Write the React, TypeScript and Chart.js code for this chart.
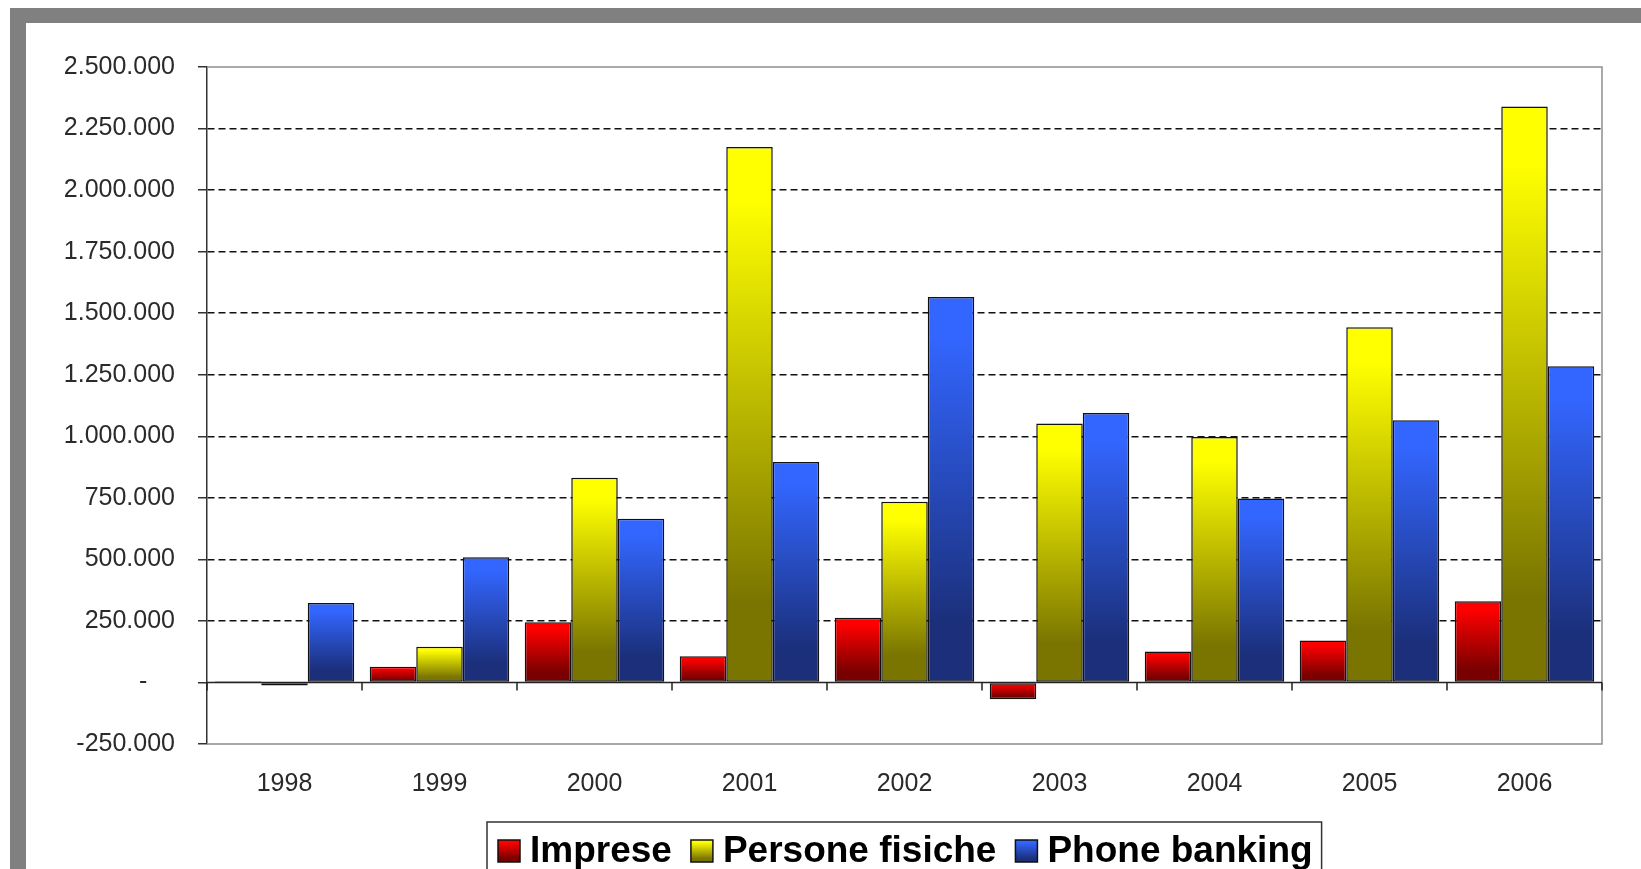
import { useEffect, useRef } from 'react';
import { Chart, registerables } from 'chart.js';

Chart.register(...registerables);

// Categories and series values
const years = ['1998', '1999', '2000', '2001', '2002', '2003', '2004', '2005', '2006'];
const imprese = [5000, 64000, 245000, 106000, 263000, -68000, 126000, 170000, 330000];
const personeFisiche = [-12000, 145000, 832000, 2175000, 734000, 1052000, 997000, 1443000, 2340000];
const phoneBanking = [323000, 509000, 665000, 896000, 1566000, 1095000, 747000, 1065000, 1284000];
const seriesNames = ['Imprese', 'Persone fisiche', 'Phone banking'];

// Value axis range
const yMin = -250000;
const yMax = 2500000;
const yStep = 250000;

// Bar shading: bright at the top, dark at the base
const topColors = ['#FF0000', '#FFFF00', '#3366FF'];
const bottomColors = ['#780000', '#7A7500', '#1B2F7A'];

const FONT = '"Liberation Sans", Arial, sans-serif';

function formatValue(v: number): string {
  if (v === 0) return '-    ';
  const s = Math.abs(v).toString().replace(/\B(?=(\d{3})+(?!\d))/g, '.');
  return (v < 0 ? '-' : '') + s;
}

function fillStops(g: CanvasGradient, i: number) {
  g.addColorStop(0, topColors[i]);
  g.addColorStop(0.1, topColors[i]);
  g.addColorStop(0.85, bottomColors[i]);
  g.addColorStop(1, bottomColors[i]);
  return g;
}

function barFill(i: number) {
  return (c: any) => {
    const chart = c.chart;
    if (c.type !== 'data' || !chart.chartArea) return topColors[i];
    const ys = chart.scales.y;
    const v = c.raw as number;
    const p0 = ys.getPixelForValue(0);
    const p1 = ys.getPixelForValue(v);
    const t = Math.min(p0, p1);
    const b = Math.max(p0, p1);
    if (b - t < 1) return bottomColors[i];
    return fillStops(chart.ctx.createLinearGradient(0, t, 0, b), i);
  };
}

const decorPlugin = {
  id: 'decor',
  beforeDraw(chart: any) {
    const { ctx, width, height } = chart;
    ctx.save();
    ctx.fillStyle = '#ffffff';
    ctx.fillRect(0, 0, width, height);
    ctx.fillStyle = '#808080';
    ctx.fillRect(10, 8, width - 10, 15);
    ctx.fillRect(10, 8, 16, height - 8);
    ctx.restore();
  },
  beforeDatasetsDraw(chart: any) {
    const { ctx, chartArea: a } = chart;
    ctx.save();
    ctx.strokeStyle = '#8f8f8f';
    ctx.lineWidth = 1.5;
    ctx.beginPath();
    ctx.moveTo(a.left, a.top);
    ctx.lineTo(a.right, a.top);
    ctx.lineTo(a.right, a.bottom);
    ctx.lineTo(a.left, a.bottom);
    ctx.stroke();
    ctx.restore();
  },
  afterDatasetsDraw(chart: any) {
    const { ctx, chartArea: a } = chart;
    const xs = chart.scales.x;
    const y0 = chart.scales.y.getPixelForValue(0);
    const step = xs.getPixelForValue(1) - xs.getPixelForValue(0);
    ctx.save();
    ctx.strokeStyle = '#222';
    ctx.lineWidth = 1.5;
    ctx.beginPath();
    ctx.moveTo(a.left, y0);
    ctx.lineTo(a.right, y0);
    for (let i = 0; i <= years.length; i++) {
      const x = xs.getPixelForValue(0) - step / 2 + i * step;
      ctx.moveTo(x, y0);
      ctx.lineTo(x, y0 + 8);
    }
    ctx.stroke();
    ctx.restore();
  },
  afterDraw(chart: any) {
    const { ctx, chartArea: a } = chart;
    ctx.save();
    ctx.font = `bold 37px ${FONT}`;
    const box = 22;
    const gapText = 10;
    const gapItem = 19;
    const padL = 11;
    const padR = 9;
    const widths = seriesNames.map((n) => ctx.measureText(n).width);
    const content = widths.reduce((s, w) => s + box + gapText + w, 0) + gapItem * (seriesNames.length - 1);
    const total = padL + content + padR;
    const left = Math.round((a.left + a.right) / 2 - total / 2);
    const top = 822;
    const baseline = 862;
    ctx.strokeStyle = '#333';
    ctx.lineWidth = 1.5;
    ctx.strokeRect(left, top, total, chart.height - top + 20);
    let x = left + padL;
    seriesNames.forEach((name, i) => {
      const by = baseline - box;
      ctx.fillStyle = fillStops(ctx.createLinearGradient(0, by, 0, by + box), i);
      ctx.fillRect(x, by, box, box);
      ctx.strokeStyle = '#111';
      ctx.lineWidth = 1.5;
      ctx.strokeRect(x, by, box, box);
      ctx.fillStyle = '#000';
      ctx.textBaseline = 'alphabetic';
      ctx.textAlign = 'left';
      ctx.fillText(name, x + box + gapText, baseline);
      x += box + gapText + widths[i] + gapItem;
    });
    ctx.restore();
  },
};

export default function App() {
  const ref = useRef<HTMLCanvasElement>(null);

  useEffect(() => {
    const values = [imprese, personeFisiche, phoneBanking];
    const chart = new Chart(ref.current as HTMLCanvasElement, {
      type: 'bar',
      data: {
        labels: years,
        datasets: seriesNames.map((name, i) => ({
          label: name,
          data: values[i],
          backgroundColor: barFill(i),
          borderColor: '#111',
          borderWidth: 1.5,
          borderSkipped: false,
          categoryPercentage: 0.9,
          barPercentage: 1,
        })),
      },
      options: {
        animation: false,
        responsive: true,
        maintainAspectRatio: false,
        devicePixelRatio: 1,
        events: [],
        layout: { padding: { left: 0, top: 67, right: 39, bottom: 0 } },
        plugins: {
          legend: { display: false },
          tooltip: { enabled: false },
          title: { display: false },
        },
        scales: {
          x: {
            type: 'category',
            grid: { display: false, drawTicks: false },
            border: { display: false },
            ticks: {
              font: { family: FONT, size: 25 },
              color: '#2a2a2a',
              padding: 25,
              maxRotation: 0,
            },
            afterFit: (s: any) => {
              s.height = 125;
            },
          },
          y: {
            min: yMin,
            max: yMax,
            grid: {
              color: (c: any) => {
                const v = c.tick && c.tick.value;
                return v === 0 || v === yMin || v === yMax ? 'rgba(0,0,0,0)' : '#111';
              },
              lineWidth: 1.5,
              drawTicks: true,
              tickLength: 9,
              tickColor: '#333',
              tickWidth: 1.5,
              tickBorderDash: [],
            },
            border: { display: true, color: '#333', width: 1.5, dash: [7, 4] },
            ticks: {
              stepSize: yStep,
              font: { family: FONT, size: 25 },
              color: '#2a2a2a',
              padding: 23,
              callback: (v: any) => formatValue(Number(v)),
            },
            afterFit: (s: any) => {
              s.width = 207;
            },
          },
        },
      },
      plugins: [decorPlugin],
    } as any);
    return () => chart.destroy();
  }, []);

  return (
    <div style={{ position: 'fixed', left: 0, top: 0, width: 1641, height: 869, background: '#fff' }}>
      <canvas ref={ref} />
    </div>
  );
}
